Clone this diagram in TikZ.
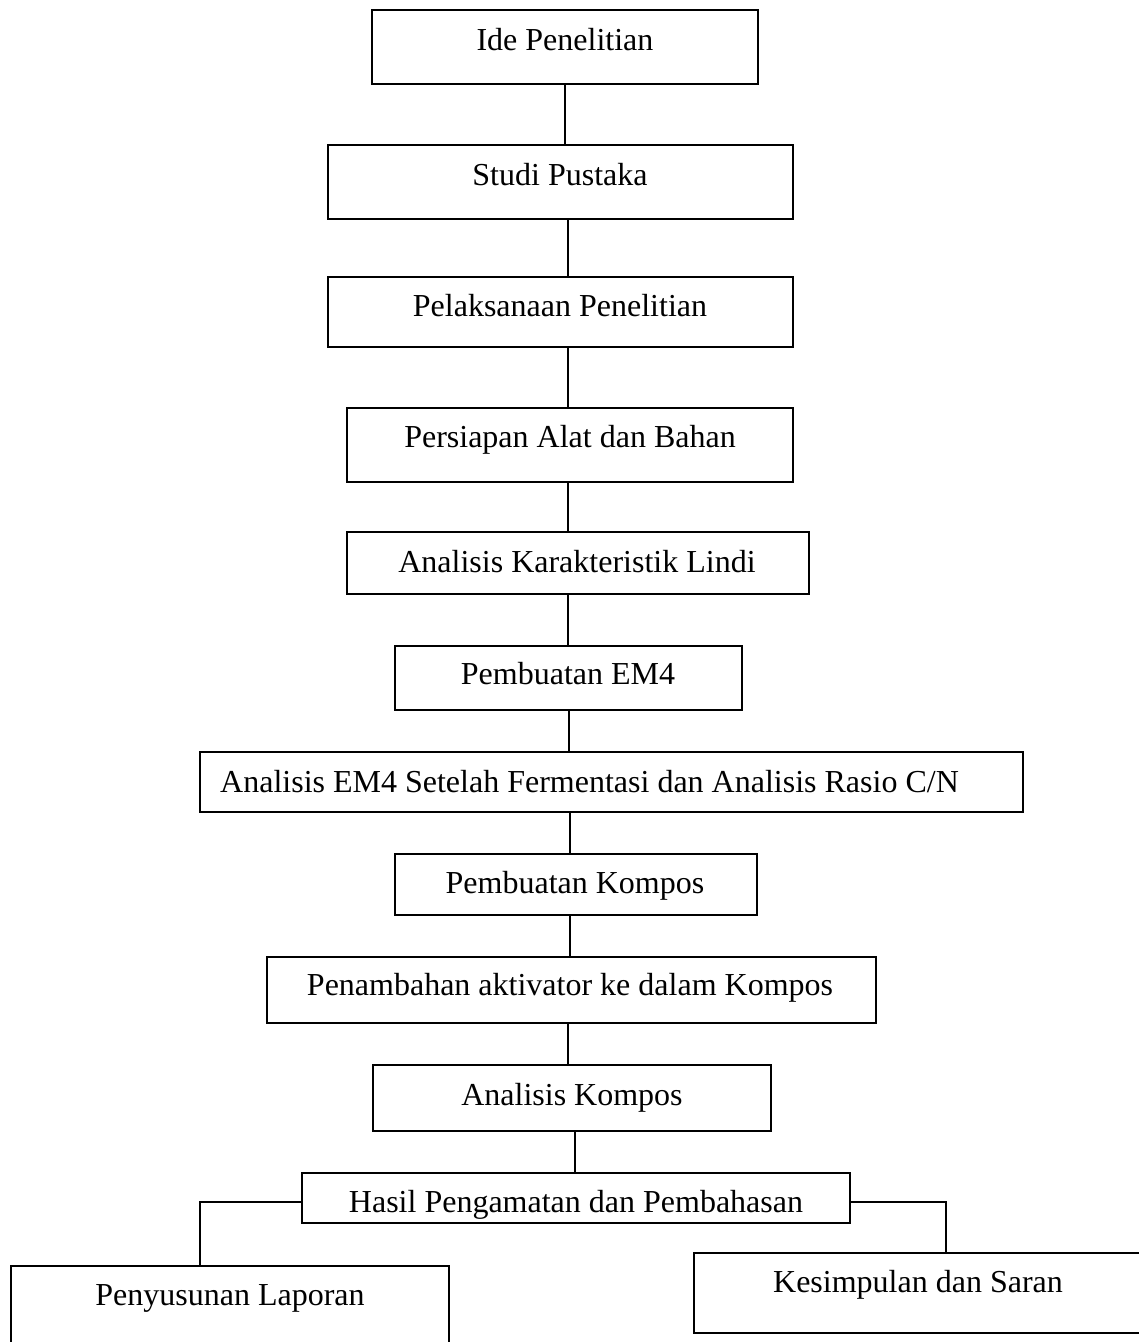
\documentclass[tikz,border=0pt]{standalone}
\usepackage{fontspec}
\setmainfont{Liberation Serif}
\usetikzlibrary{fit}
\begin{document}
\begin{tikzpicture}[x=1pt,y=-1pt,
  boxnode/.style={draw=black, line width=1.8pt, inner sep=0pt, outer sep=0pt, fill=white},
  txt/.style={inner sep=0pt, font=\fontsize{32}{38}\selectfont, anchor=base},
  link/.style={draw=black, line width=1.8pt}]
\useasboundingbox (0,0) rectangle (1139,1342);
\clip (0,0) rectangle (1139,1342);
\fill[white] (0,0) rectangle (1139,1342);
% boxes
\node[boxnode, fit={(372,10)(758,84)}] (ide) {};
\node[boxnode, fit={(328,145)(793,219)}] (studi) {};
\node[boxnode, fit={(328,277)(793,347)}] (pel) {};
\node[boxnode, fit={(347,408)(793,482)}] (pers) {};
\node[boxnode, fit={(347,532)(809,594)}] (ak) {};
\node[boxnode, fit={(395,646)(742,710)}] (em) {};
\node[boxnode, fit={(200,752)(1023,812)}] (aem) {};
\node[boxnode, fit={(395,854)(757,915)}] (pk) {};
\node[boxnode, fit={(267,957)(876,1023)}] (pen) {};
\node[boxnode, fit={(373,1065)(771,1131)}] (akomp) {};
\node[boxnode, fit={(302,1173)(850,1223)}] (hasil) {};
\node[boxnode, fit={(11,1266)(449,1360)}] (lap) {};
\node[boxnode, fit={(694,1253)(1150,1333)}] (kes) {};
% texts
\node[txt] (ideT) at (565,50) {Ide Penelitian};
\node[txt] (studiT) at (560,185) {Studi Pustaka};
\node[txt] (pelT) at (560,316) {Pelaksanaan Penelitian};
\node[txt] (persT) at (570,447) {Persiapan Alat dan Bahan};
\node[txt] (akT) at (577,572) {Analisis Karakteristik Lindi};
\node[txt] (emT) at (568,684) {Pembuatan EM4};
\node[txt, anchor=base west] (aemT) at (220,792) {Analisis EM4 Setelah Fermentasi dan Analisis Rasio C/N};
\node[txt] (pkT) at (575,893) {Pembuatan Kompos};
\node[txt] (penT) at (570,995) {Penambahan aktivator ke dalam Kompos};
\node[txt] (akompT) at (572,1105) {Analisis Kompos};
\node[txt] (hasilT) at (576,1212) {Hasil Pengamatan dan Pembahasan};
\node[txt] (lapT) at (230,1305) {Penyusunan Laporan};
\node[txt] (kesT) at (918,1292) {Kesimpulan dan Saran};
% connectors
\draw[link] (ide.south -| 565,0) -- (studi.north -| 565,0);
\draw[link] (studi.south -| 568,0) -- (pel.north -| 568,0);
\draw[link] (pel.south -| 568,0) -- (pers.north -| 568,0);
\draw[link] (pers.south -| 568,0) -- (ak.north -| 568,0);
\draw[link] (ak.south -| 568,0) -- (em.north -| 568,0);
\draw[link] (em.south -| 569,0) -- (aem.north -| 569,0);
\draw[link] (aem.south -| 570,0) -- (pk.north -| 570,0);
\draw[link] (pk.south -| 570,0) -- (pen.north -| 570,0);
\draw[link] (pen.south -| 568,0) -- (akomp.north -| 568,0);
\draw[link] (akomp.south -| 575,0) -- (hasil.north -| 575,0);
\draw[link] (hasil.west |- 0,1202) -- (200,1202) -- (lap.north -| 200,0);
\draw[link] (hasil.east |- 0,1202) -- (946,1202) -- (kes.north -| 946,0);
\end{tikzpicture}
\end{document}
